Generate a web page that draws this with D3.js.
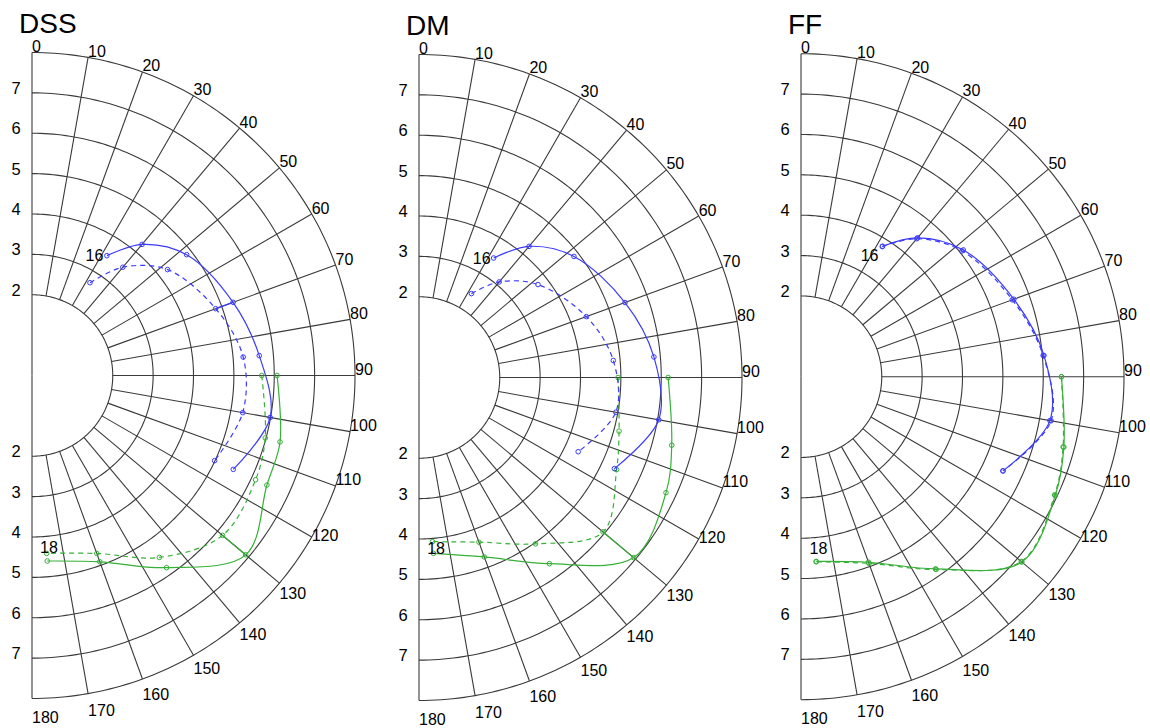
<!DOCTYPE html>
<html>
<head>
<meta charset="utf-8">
<script src="https://cdn.jsdelivr.net/npm/d3@7/dist/d3.min.js"></script>
<style>
  html, body { margin: 0; padding: 0; background: #fff; }
  svg { display: block; font-family: "Liberation Sans", Arial, sans-serif; }
</style>
</head>
<body>
<svg id="chart" width="1150" height="728"></svg>
<script>
// ---- data -------------------------------------------------------------
const panelNames = ["DSS", "DM", "FF"];
const angleTicks = [0, 10, 20, 30, 40, 50, 60, 70, 80, 90, 100, 110, 120, 130, 140, 150, 160, 170, 180];
const radialGrid = [2, 3, 4, 5, 6, 7, 8];
const radialTickLabels = [2, 3, 4, 5, 6, 7];

// angular positions (degrees, clockwise from the top) of the sampled points
const blueAngles = [32, 40, 52, 70, 85, 100, 115];
const greenAngles = [90, 105, 115, 130, 145, 160, 175.3];

// radial values per panel
const dssBlueSolid   = [3.50, 4.24, 4.86, 5.30, 5.65, 5.99, 5.50];
const dssBlueDashed  = [2.71, 3.50, 4.26, 4.84, 5.25, 5.30, 4.99];
const dssGreenSolid  = [6.07, 6.36, 6.42, 6.91, 5.81, 4.91, 4.61];
const dssGreenDashed = [5.69, 5.98, 6.11, 6.16, 5.50, 4.69, 4.42];

const dmBlueSolid   = [3.49, 4.24, 4.87, 5.43, 5.84, 6.03, 5.34];
const dmBlueDashed  = [2.45, 3.09, 3.74, 4.41, 4.83, 4.95, 4.35];
const dmGreenSolid  = [6.17, 6.48, 6.75, 6.94, 5.63, 4.73, 4.37];
const dmGreenDashed = [4.93, 5.13, 5.40, 5.95, 5.03, 4.34, 4.08];

const ffBlueSolid   = [3.81, 4.49, 5.10, 5.61, 6.04, 6.26, 5.52];
const ffBlueDashed  = [3.80, 4.46, 5.06, 5.57, 6.02, 6.29, 5.52];
const ffGreenSolid  = [6.45, 6.74, 6.95, 7.14, 5.81, 4.89, 4.59];
const ffGreenDashed = [6.45, 6.72, 6.93, 7.12, 5.83, 4.92, 4.60];

// index of the sample where the dashed and solid curves are joined by a connector
const blueLinks  = [3, null, null];
const greenLinks = [3, 3, null];

// curve start / end annotations: [text, angle, radius]
const startNotes = [["16", 27.5, 3.35], ["16", 27.7, 3.34], ["16", 29.5, 3.45]];
const endNotes   = [["18", 174.4, 4.29], ["18", 174.3, 4.25], ["18", 174.2, 4.27]];

// ---- drawing ----------------------------------------------------------
const BLUE = "#3a3aff";
const GREEN = "#36b036";
const GRID = "#3a3a3a";

const series = [
  { blue: [dssBlueSolid, dssBlueDashed], green: [dssGreenSolid, dssGreenDashed] },
  { blue: [dmBlueSolid, dmBlueDashed],   green: [dmGreenSolid, dmGreenDashed] },
  { blue: [ffBlueSolid, ffBlueDashed],   green: [ffGreenSolid, ffGreenDashed] }
];

const centers = [ [32, 375.5], [419, 377.5], [801, 376.7] ];
const R = 323;

const svg = d3.select("#chart");

// radius scale shared by all panels
const r = d3.scaleLinear().domain([0, 8]).range([0, R]);
const ang = d3.scaleLinear().domain([0, 180]).range([0, Math.PI]);

function polar(a, v) {
  const t = ang(a), rr = r(v);
  return [rr * Math.sin(t), -rr * Math.cos(t)];
}

// vertical placement of the angle labels around the outer arc
function angleLabelDy(a) {
  if (a <= 110) return -0.5;
  if (a <= 120) return 4;
  return 15.5 + (a - 130) * 0.18;
}

panelNames.forEach((name, i) => {
  const [cx, cy] = centers[i];
  const g = svg.append("g").attr("transform", `translate(${cx},${cy})`);

  // title
  g.append("text")
    .attr("x", -13).attr("y", -342.5)
    .attr("font-size", 28)
    .attr("fill", "#000")
    .text(name);

  const grid = g.append("g")
    .attr("fill", "none")
    .attr("stroke", GRID)
    .attr("stroke-width", 1.1);

  // concentric half circles
  radialGrid.forEach(v => {
    grid.append("path")
      .attr("d", d3.lineRadial()
        .angle(d => ang(d))
        .radius(r(v))
        .curve(d3.curveLinear)(d3.range(0, 180.5, 1)));
  });

  // radial spokes
  angleTicks.forEach(a => {
    const inner = (a === 0 || a === 180) ? 0 : 2;
    const p0 = polar(a, inner), p1 = polar(a, 8);
    grid.append("line")
      .attr("x1", p0[0]).attr("y1", p0[1])
      .attr("x2", p1[0]).attr("y2", p1[1]);
  });

  // angle labels
  g.append("g").selectAll("text")
    .data(angleTicks)
    .join("text")
    .attr("x", a => polar(a, 8)[0])
    .attr("y", a => polar(a, 8)[1] + angleLabelDy(a))
    .attr("font-size", 16)
    .attr("fill", "#000")
    .text(a => a);

  // radial labels on both sides of the hole
  const rl = g.append("g").attr("font-size", 16.5).attr("fill", "#000").attr("text-anchor", "middle");
  radialTickLabels.forEach(v => {
    rl.append("text").attr("x", -16).attr("y", -r(v) + 1).text(v);
    rl.append("text").attr("x", -16).attr("y", r(v) + 1).text(v);
  });

  // curves
  const line = (angles) => d3.lineRadial()
    .angle((d, k) => ang(angles[k]))
    .radius(d => r(d))
    .curve(d3.curveCatmullRom.alpha(0.5));

  function drawPair(values, angles, color, linkIdx) {
    const [solid, dashed] = values;
    [[dashed, "5,4"], [solid, null]].forEach(([vals, dash]) => {
      g.append("path")
        .attr("d", line(angles)(vals))
        .attr("fill", "none")
        .attr("stroke", color)
        .attr("stroke-width", 1.2)
        .attr("stroke-dasharray", dash);
      g.append("g").selectAll("circle")
        .data(vals)
        .join("circle")
        .attr("cx", (d, k) => polar(angles[k], d)[0])
        .attr("cy", (d, k) => polar(angles[k], d)[1])
        .attr("r", 2.3)
        .attr("fill", "none")
        .attr("stroke", color)
        .attr("stroke-width", 1);
    });
    if (linkIdx !== null) {
      const a = angles[linkIdx];
      const p0 = polar(a, dashed[linkIdx]), p1 = polar(a, solid[linkIdx]);
      g.append("line")
        .attr("x1", p0[0]).attr("y1", p0[1])
        .attr("x2", p1[0]).attr("y2", p1[1])
        .attr("stroke", color).attr("stroke-width", 1.2);
    }
  }

  drawPair(series[i].green, greenAngles, GREEN, greenLinks[i]);
  drawPair(series[i].blue, blueAngles, BLUE, blueLinks[i]);

  // annotations
  [startNotes[i], endNotes[i]].forEach(([txt, a, v]) => {
    const p = polar(a, v);
    g.append("text")
      .attr("x", p[0]).attr("y", p[1])
      .attr("text-anchor", "middle")
      .attr("dominant-baseline", "central")
      .attr("font-size", 16)
      .attr("fill", "#000")
      .text(txt);
  });
});
</script>
</body>
</html>
